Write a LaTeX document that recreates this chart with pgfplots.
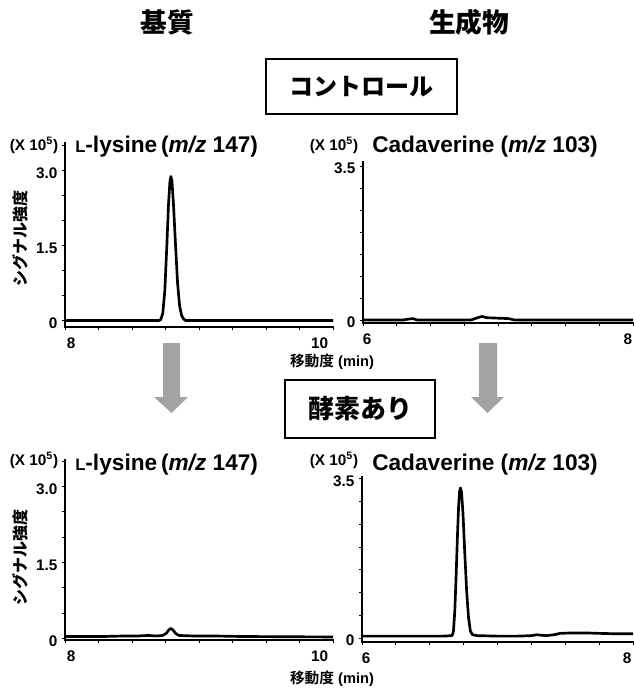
\documentclass[border=0pt]{standalone}
\usepackage{pgfplots}
\pgfplotsset{compat=1.18}
\usepackage{fontspec}
\setmainfont{Liberation Sans}
\newfontfamily\jp{Noto Sans CJK JP Black}

\definecolor{arrowgray}{HTML}{A3A3A3}

\pgfplotsset{
  chrom/.style={
    scale only axis,
    anchor=south west,
    axis x line*=bottom,
    axis y line*=left,
    axis line style={line width=1.6pt, line cap=rect},
    tick align=outside,
    major tick length=2.2pt,
    minor tick length=2.2pt,
    every tick/.style={black, line width=0.6pt},
    major x tick style={draw=none},
    tick label style={font=\fontsize{11.5}{13}\selectfont\bfseries},
    yticklabel style={yshift=-2pt, xshift=0pt},
    xticklabel style={yshift=-2pt},
    enlargelimits=false,
  },
  trace/.style={black, line width=2pt, line join=round, mark=none},
}

\begin{document}
\begin{tikzpicture}
\path[use as bounding box] (0,0) rectangle (474.75pt,-516.75pt);

% ---------- substrate, control ----------
\begin{axis}[chrom,
  at={(48.75pt,-245.25pt)}, width=201pt, height=138pt,
  xmin=8, xmax=10, ymin=-0.13, ymax=3.55,
  xtick={8.045,9.90}, xticklabels={8,10},
  minor xtick={8,8.25,...,10},
  ytick={0,1.5,3}, yticklabels={0,1.5,3.0},
  minor ytick={0.5,1,2,2.5,3.5}]
\addplot[trace] coordinates {
 (8.00,0) (8.50,0) (8.70,0) (8.715,0.02) (8.73,0.15) (8.745,0.6) (8.76,1.5)
 (8.772,2.3) (8.783,2.78) (8.79,2.88) (8.798,2.8) (8.81,2.3) (8.825,1.5)
 (8.84,0.75) (8.855,0.3) (8.87,0.1) (8.885,0.03) (8.90,0) (9.5,0) (10,0)};
\end{axis}

% ---------- product, control ----------
\begin{axis}[chrom,
  at={(272.25pt,-242.25pt)}, width=202.5pt, height=120.75pt,
  xmin=6, xmax=8, ymin=-0.07, ymax=3.59,
  xtick={6.03,7.963}, xticklabels={6,8},
  minor xtick={6,6.25,...,8},
  ytick={0,3.5}, yticklabels={0,3.5},
  minor ytick={0.5,1,1.5,2,2.5,3}]
\addplot[trace] coordinates {
 (6.00,0) (6.30,0) (6.34,0.02) (6.37,0.03) (6.40,0) (6.80,0) (6.84,0.04)
 (6.88,0.08) (6.92,0.05) (7.00,0.04) (7.08,0.03) (7.12,0) (8,0)};
\end{axis}

% ---------- substrate, with enzyme ----------
\begin{axis}[chrom,
  at={(48.75pt,-480pt)}, width=201pt, height=135pt,
  xmin=8, xmax=10, ymin=-0.03, ymax=3.52,
  xtick={8.045,9.90}, xticklabels={8,10},
  minor xtick={8,8.25,...,10},
  ytick={0,1.5,3}, yticklabels={0,1.5,3.0},
  minor ytick={0.5,1,2,2.5,3.5}]
\addplot[trace] coordinates {
 (8.00,0.04) (8.30,0.04) (8.45,0.05) (8.55,0.05) (8.62,0.06) (8.68,0.05)
 (8.73,0.06) (8.755,0.1) (8.775,0.17) (8.79,0.2) (8.805,0.17) (8.825,0.1)
 (8.85,0.06) (8.95,0.05) (9.10,0.05) (9.30,0.04) (9.60,0.035) (10,0.03)};
\end{axis}

% ---------- product, with enzyme ----------
\begin{axis}[chrom,
  at={(271.5pt,-481.5pt)}, width=203.25pt, height=123.75pt,
  xmin=6, xmax=8, ymin=-0.09, ymax=3.54,
  xtick={6.03,7.956}, xticklabels={6,8},
  minor xtick={6,6.25,...,8},
  ytick={0,3.5}, yticklabels={0,3.5},
  minor ytick={0.5,1,1.5,2,2.5,3}]
\addplot[trace] coordinates {
 (6.00,0.04) (6.40,0.04) (6.60,0.04) (6.665,0.05) (6.675,0.15) (6.685,0.6)
 (6.695,1.4) (6.705,2.3) (6.713,2.9) (6.72,3.22) (6.727,3.3) (6.735,3.2)
 (6.745,2.75) (6.758,1.9) (6.772,1.05) (6.786,0.45) (6.80,0.15) (6.815,0.07)
 (6.85,0.05) (7.00,0.04) (7.15,0.04) (7.25,0.05) (7.29,0.07) (7.32,0.06)
 (7.36,0.05) (7.42,0.07) (7.46,0.1) (7.55,0.11) (7.65,0.11) (7.75,0.1)
 (7.90,0.09) (8.00,0.09)};
\end{axis}

% ---------- headings, boxes, arrows and panel texts ----------
\begin{scope}[x=0.75pt, y=-0.75pt]
  \node at (167,22) {\jp\fontsize{20}{22}\selectfont 基質};
  \node at (469,22) {\jp\fontsize{20}{22}\selectfont 生成物};

  \draw[line width=1.6pt] (266,59) rectangle (457,114);
  \node at (361,87) {\jp\fontsize{18}{20}\selectfont コントロール};

  \draw[line width=1.6pt] (285,380) rectangle (435,438);
  \node at (360,409) {\jp\fontsize{19.5}{21}\selectfont 酵素あり};

  \fill[arrowgray] (163,343) -- (180,343) -- (180,397) -- (188,397) -- (171.5,413)
    -- (154,397) -- (163,397) -- cycle;
  \fill[arrowgray] (479,343) -- (497,343) -- (497,397) -- (504,397) -- (487.5,413)
    -- (471,397) -- (479,397) -- cycle;

  % scale factors
  \foreach \xx/\yy in {34/145, 334/145, 34/460, 334/460}
    \node at (\xx,\yy) {\bfseries\fontsize{11.5}{12}\selectfont (X 10\textsuperscript{5})};

  % trace titles
  \node[anchor=west, inner sep=0] at (75,147)
    {\bfseries\fontsize{17}{18}\selectfont{\fontsize{12.5}{14}\selectfont L}-lysine\,(\textit{m/z} 147)};
  \node[anchor=west, inner sep=0] at (372,147)
    {\bfseries\fontsize{17}{18}\selectfont Cadaverine (\textit{m/z} 103)};
  \node[anchor=west, inner sep=0] at (75,465)
    {\bfseries\fontsize{17}{18}\selectfont{\fontsize{12.5}{14}\selectfont L}-lysine\,(\textit{m/z} 147)};
  \node[anchor=west, inner sep=0] at (372,465)
    {\bfseries\fontsize{17}{18}\selectfont Cadaverine (\textit{m/z} 103)};

  % axis titles
  \node[rotate=90] at (20,238) {\jp\fontsize{12}{14}\selectfont シグナル強度};
  \node[rotate=90] at (20,557) {\jp\fontsize{12}{14}\selectfont シグナル強度};
  \node at (332,362) {\bfseries\fontsize{11}{13}\selectfont{\jp 移動度} (min)};
  \node at (332,679) {\bfseries\fontsize{11}{13}\selectfont{\jp 移動度} (min)};
\end{scope}
\end{tikzpicture}
\end{document}
